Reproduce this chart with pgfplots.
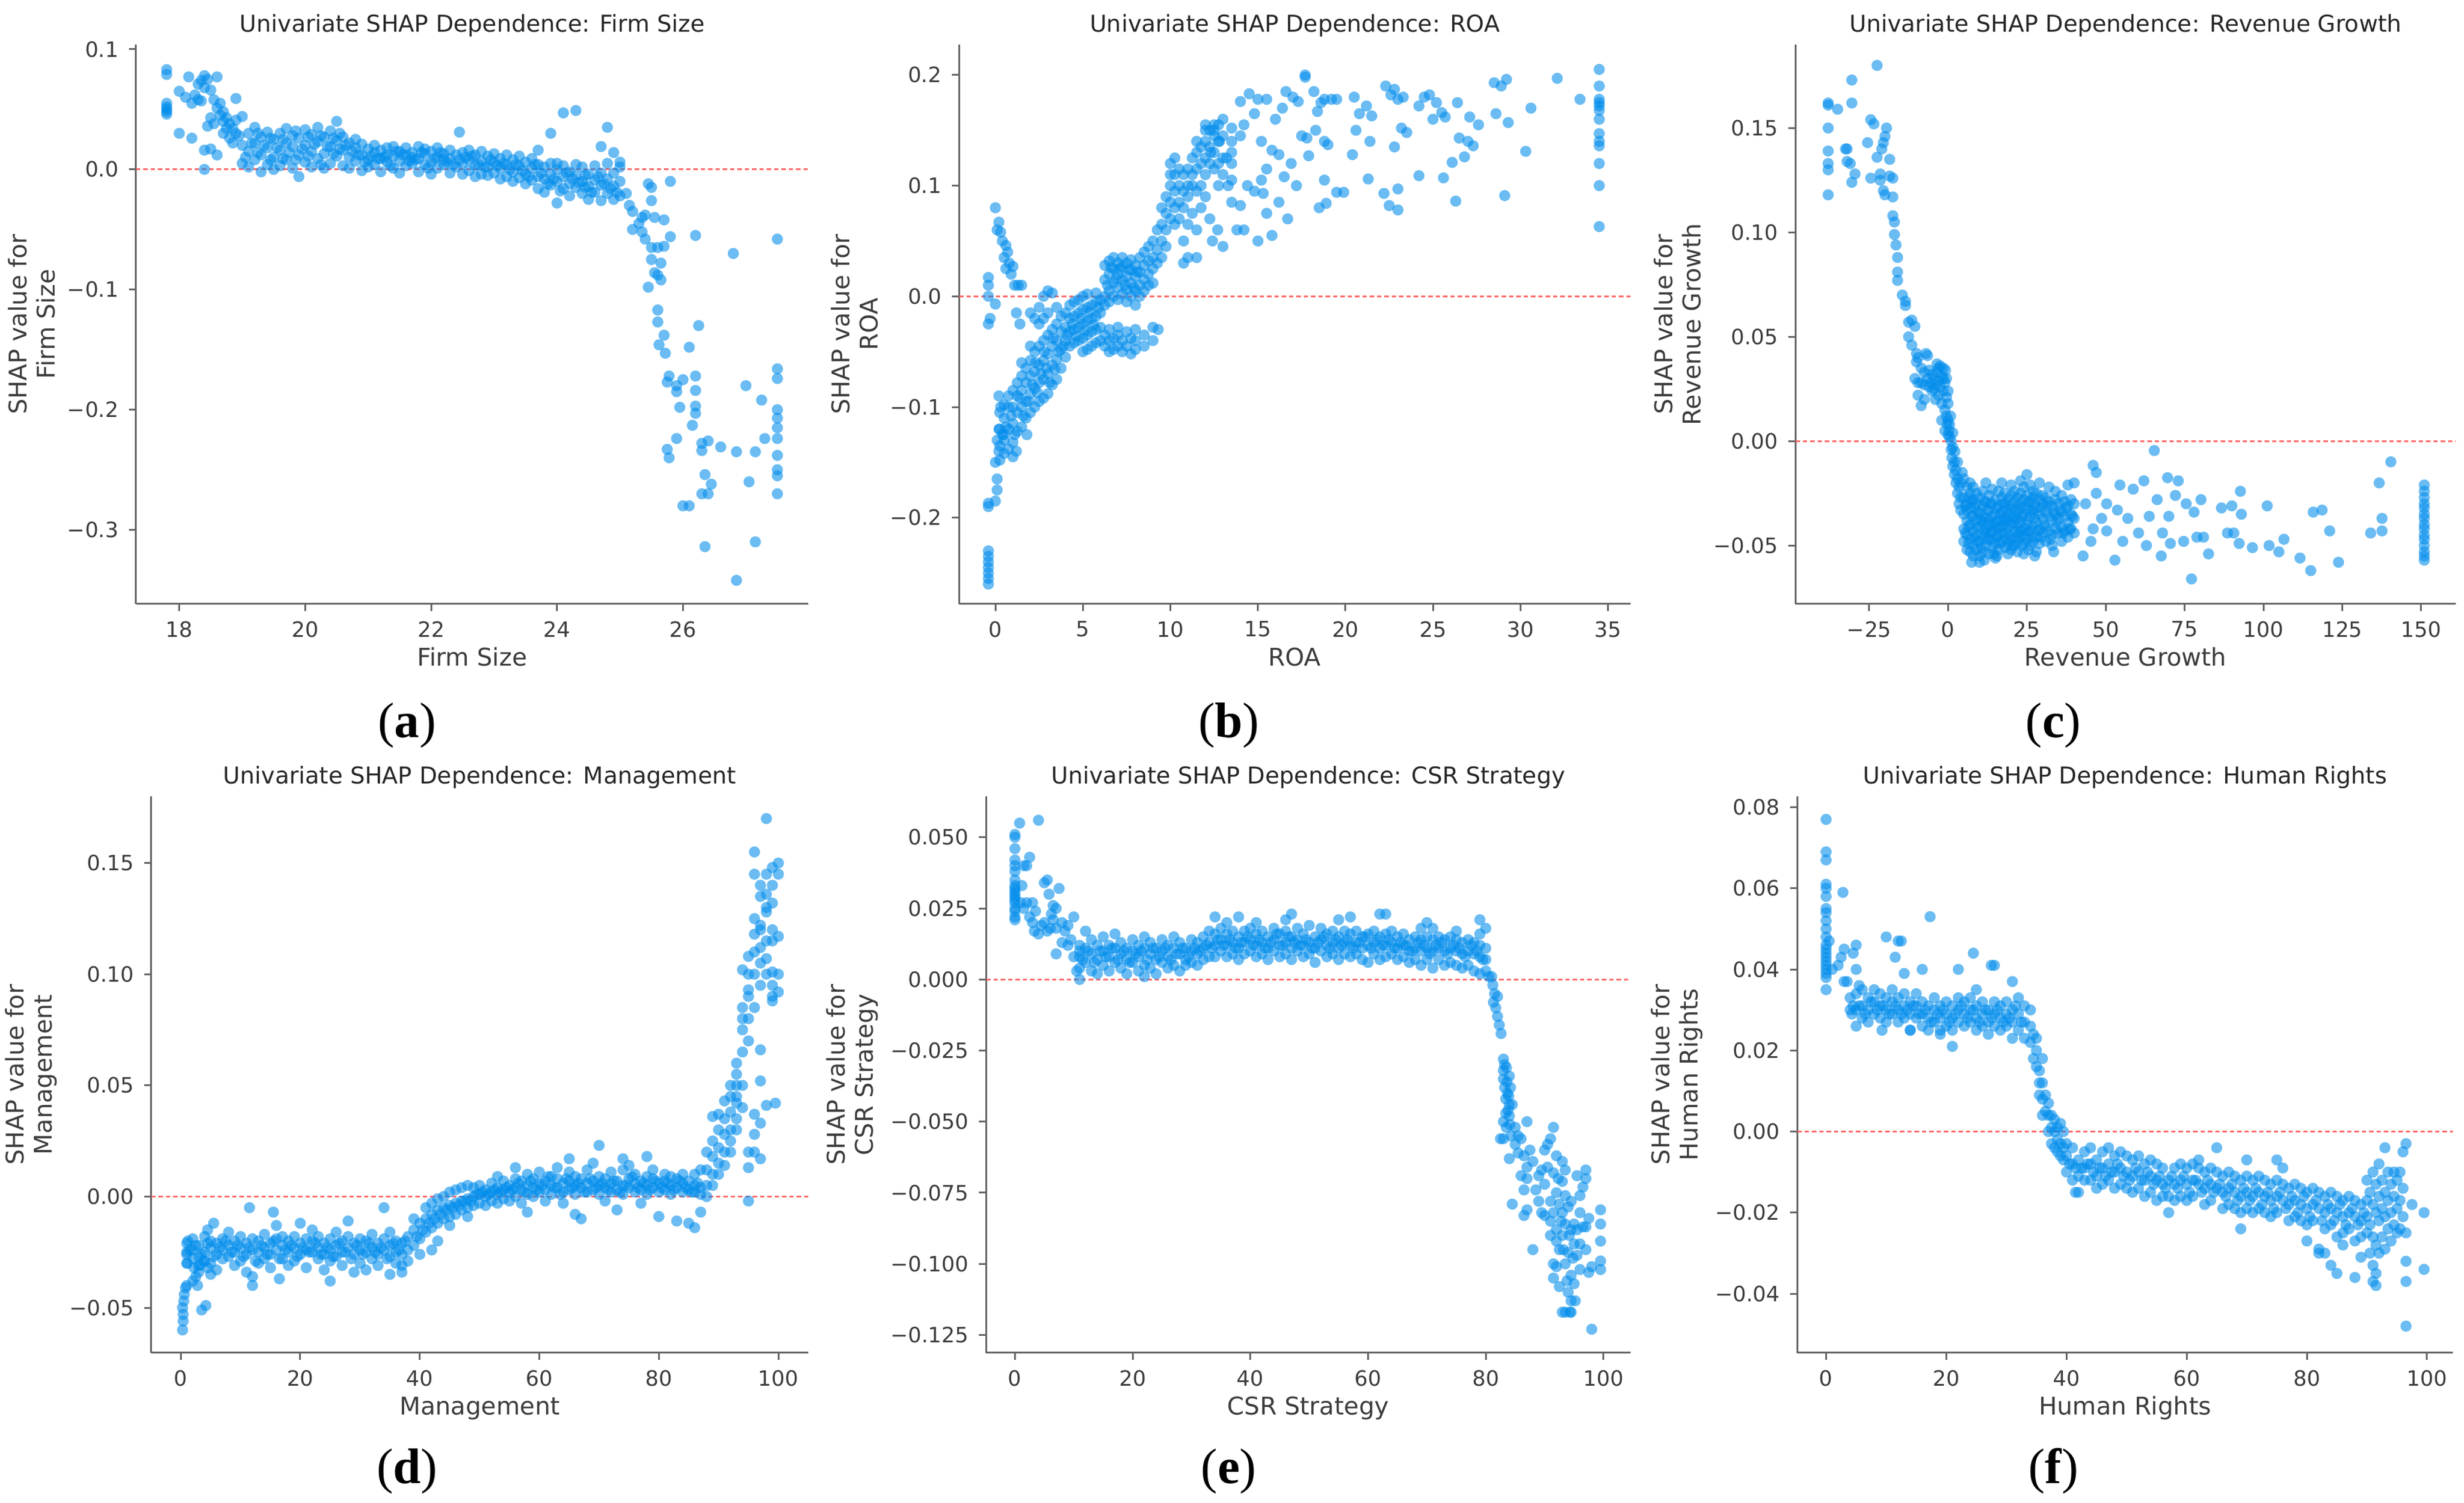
\documentclass[border=0pt]{standalone}
\usepackage{fontspec}
\setmainfont{DejaVu Sans}
\newfontfamily\capfont{Liberation Serif}
\usepackage{pgfplots}
\pgfplotsset{compat=1.18}
\definecolor{shapblue}{RGB}{0,140,235}
\definecolor{spinec}{RGB}{100,100,100}
\definecolor{textc}{RGB}{60,60,60}
\definecolor{zred}{RGB}{255,80,80}
\pgfplotsset{
  every axis title shift=0pt,
  shap/.style={
    scale only axis,
    axis lines=left,
    axis line style={-, draw=spinec, line width=0.6pt},
    tick align=outside,
    major tick length=2.4pt,
    tick style={draw=spinec, line width=0.6pt},
    tick label style={font=\fontsize{7.2}{8}\selectfont, text=textc},
    label style={font=\fontsize{8.3}{9.6}\selectfont, text=textc},
    title style={font=\fontsize{7.9}{9}\selectfont, text=black!85, at={(0.5,1)}, anchor=base, yshift=4.2pt},
    ylabel style={align=center, yshift=-2.7pt},
    xlabel style={at={(axis description cs:0.5,0)}, anchor=base, yshift=-21.2pt},
    clip=false,
    scaled ticks=false,
    anchor=south west,
  },
  pts/.style={only marks, color=shapblue, mark=*, mark size=1.9pt, mark options={line width=0pt, draw opacity=0, fill=shapblue, fill opacity=0.58}},
  zline/.style={no marks, draw=zred, line width=0.6pt, dash pattern=on 1.5pt off 1pt, opacity=0.85},
}
\begin{document}
\begin{tikzpicture}
\path[use as bounding box] (0,0) rectangle (840.2pt,512.6pt);
% ---------------- (a) Firm Size
\begin{axis}[shap, at={(46.4pt,306.6pt)}, width=229.2pt, height=190.8pt,
  xmin=17.314, xmax=27.99, ymin=-0.3617, ymax=0.1039,
  xtick={18,20,22,24,26}, xticklabels={18,20,22,24,26},
  ytick={-0.3,-0.2,-0.1,0,0.1}, yticklabels={−0.3,−0.2,−0.1,0.0,0.1},
  title={Univariate SHAP Dependence: Firm Size}, xlabel={Firm Size}, ylabel={SHAP value for\\Firm Size}]
\addplot[pts] coordinates {
(17.8,0.083)(17.8,0.079)(17.8,0.055)(17.8,0.052)(17.8,0.050)(17.8,0.048)(17.8,0.046)
(18.0,0.030)(18.0,0.065)(18.1,0.060)(18.15,0.077)(18.2,0.026)(18.2,0.055)(18.25,0.062)(18.3,0.071)(18.35,0.074)(18.35,0.057)(18.4,0.078)(18.4,0.068)(18.45,0.075)(18.5,0.066)(18.45,0.036)(18.5,0.043)(18.4,0.016)(18.4,0.000)(18.5,0.017)(18.6,0.077)(18.55,0.058)(18.6,0.051)(18.65,0.045)(18.7,0.040)(18.7,0.030)(18.75,0.034)(18.8,0.026)(18.6,0.012)(18.9,0.059)(18.85,0.022)(18.9,0.030)(19.0,0.044)(19.0,0.020)(19.0,0.005)(18.65,0.055)(18.7,0.048)(18.75,0.043)(18.8,0.038)(18.85,0.034)(18.9,0.041)(18.95,0.028)(18.55,0.038)(18.3,0.058)
(19.1,0.030)(19.1,0.015)(19.1,0.002)(19.2,0.022)(19.2,0.008)(19.2,0.035)(19.3,0.012)(19.3,0.027)(19.3,-0.002)(19.4,0.018)(19.4,0.004)(19.4,0.031)(19.5,0.025)(19.5,0.010)(19.5,0.000)
(19.6,0.016)(19.6,0.030)(19.6,0.003)(19.7,0.008)(19.7,0.022)(19.7,0.034)(19.8,0.019)(19.8,0.001)(19.8,0.028)(19.9,0.012)(19.9,0.026)(19.9,-0.006)(20.0,0.020)(20.0,0.006)(20.0,0.033)
(20.1,0.015)(20.1,0.029)(20.1,0.002)(20.2,0.023)(20.2,0.009)(20.2,0.035)(20.3,0.013)(20.3,0.027)(20.3,0.001)(20.4,0.019)(20.4,0.005)(20.4,0.032)(20.5,0.024)(20.5,0.011)(20.5,0.040)
(20.6,0.016)(20.6,0.003)(20.6,0.027)(20.7,0.010)(20.7,0.022)(20.7,0.001)(20.8,0.018)(20.8,0.007)(20.8,0.025)(20.9,0.012)(20.9,0.021)(20.9,-0.001)(21.0,0.008)(21.0,0.017)(21.0,0.002)
(21.1,0.014)(21.1,0.004)(21.1,0.020)(21.2,0.009)(21.2,0.016)(21.2,-0.002)(21.3,0.006)(21.3,0.018)(21.3,0.012)(21.4,0.011)(21.4,0.001)(21.4,0.019)(21.5,0.007)(21.5,0.015)(21.5,-0.003)
(21.6,0.012)(21.6,0.003)(21.6,0.018)(21.7,0.005)(21.7,0.014)(21.7,0.010)(21.8,0.009)(21.8,-0.002)(21.8,0.019)(21.9,0.013)(21.9,0.004)(21.9,0.017)(22.0,0.006)(22.0,0.015)(22.0,-0.004)
(22.1,0.010)(22.1,0.001)(22.1,0.018)(22.2,0.004)(22.2,0.013)(22.2,0.008)(22.3,0.009)(22.3,-0.003)(22.3,0.016)(22.4,0.012)(22.4,0.002)(22.45,0.031)(22.5,0.005)(22.5,0.014)(22.5,-0.004)
(22.6,0.008)(22.6,-0.001)(22.6,0.016)(22.7,0.003)(22.7,0.012)(22.7,-0.006)(22.8,0.007)(22.8,-0.004)(22.8,0.015)(22.9,0.002)(22.9,0.011)(22.9,-0.005)(23.0,0.006)(23.0,-0.003)(23.0,0.013)
(23.1,0.001)(23.1,0.009)(23.1,-0.008)(23.2,0.004)(23.2,-0.006)(23.2,0.012)(23.3,-0.002)(23.3,0.008)(23.3,-0.010)(23.4,0.003)(23.4,-0.007)(23.4,0.011)(23.5,-0.004)(23.5,0.006)(23.5,-0.012)
(23.6,0.001)(23.6,-0.009)(23.6,0.009)(23.7,-0.006)(23.7,0.004)(23.7,-0.016)(23.7,0.016)(23.8,-0.008)(23.8,0.002)(23.8,-0.019)(23.9,-0.004)(23.9,-0.013)(23.9,0.005)(23.9,0.030)
(24.0,-0.010)(24.0,0.000)(24.0,-0.028)(24.0,0.005)(24.1,-0.006)(24.1,-0.016)(24.1,0.003)(24.1,0.047)(24.2,-0.012)(24.2,-0.002)(24.2,-0.022)(24.3,-0.005)(24.3,-0.015)(24.3,0.004)(24.3,0.049)
(24.4,-0.010)(24.4,-0.020)(24.4,0.002)(24.5,-0.004)(24.5,-0.014)(24.5,-0.025)(24.6,-0.009)(24.6,0.003)(24.6,-0.019)(24.7,-0.013)(24.7,-0.003)(24.7,-0.026)(24.7,0.019)(24.8,-0.008)(24.8,-0.020)(24.8,0.005)(24.8,0.035)
(24.9,-0.014)(24.9,-0.025)(24.9,-0.003)(24.9,0.014)(25.0,-0.010)(25.0,-0.022)(25.0,0.002)(25.0,0.006)
(19.15,0.022)(19.35,0.020)(19.55,0.018)(19.75,0.014)(19.95,0.017)(20.15,0.021)(20.35,0.019)(20.55,0.017)(20.25,0.028)(20.45,0.026)(19.65,0.009)(20.05,0.011)
(19.25,0.014)(19.45,0.026)(19.85,0.008)(20.65,0.020)(20.85,0.012)(21.05,0.011)(21.35,0.003)(21.55,0.012)(21.85,0.014)(22.05,0.009)(22.35,0.004)(22.55,0.010)(22.85,0.002)(23.05,0.003)(23.35,0.004)(23.55,-0.006)(23.85,-0.012)(24.05,-0.018)(24.35,-0.011)(24.55,-0.019)(24.85,-0.016)(24.45,-0.005)
(21.25,0.010)(21.75,0.008)(22.25,0.006)(22.75,0.004)(23.25,0.000)(23.75,-0.003)(24.25,-0.008)(24.75,-0.012)
(19.05,0.010)(19.25,0.030)(19.45,0.008)(19.65,0.025)(19.85,0.032)(20.05,0.027)(20.25,0.004)(20.45,0.013)(20.55,0.030)(20.75,0.015)(20.95,0.006)(21.15,0.009)(21.45,0.015)(21.65,0.007)(21.95,0.001)(22.15,0.014)(22.45,0.008)(22.65,0.011)(22.95,0.008)(23.15,0.005)(23.45,-0.001)(23.65,0.004)(23.95,-0.008)(24.15,-0.003)(24.45,-0.015)(24.65,-0.006)(24.95,-0.019)
(25.1,-0.020)(25.15,-0.030)(25.2,-0.035)(25.2,-0.050)(25.3,-0.045)(25.35,-0.040)(25.35,-0.052)(25.4,-0.038)(25.4,-0.058)(25.45,-0.012)(25.5,-0.015)(25.5,-0.026)(25.55,-0.040)(25.6,-0.065)(25.5,-0.075)(25.55,-0.086)(25.45,-0.098)(25.5,-0.065)(25.6,-0.088)(25.65,-0.078)(25.65,-0.092)(25.7,-0.064)(25.7,-0.042)(25.8,-0.010)
(25.6,-0.117)(25.6,-0.127)(25.62,-0.146)(25.7,-0.138)(25.72,-0.153)(25.75,-0.177)(25.78,-0.172)(25.8,-0.056)(25.75,-0.233)(25.78,-0.240)(25.9,-0.180)(25.95,-0.198)(26.0,-0.175)(25.9,-0.185)(25.9,-0.224)(26.0,-0.280)(26.1,-0.280)(26.1,-0.148)(26.15,-0.213)
(26.2,-0.172)(26.2,-0.184)(26.2,-0.197)(26.2,-0.203)(26.2,-0.055)(26.25,-0.130)(26.3,-0.228)(26.3,-0.234)(26.35,-0.254)(26.4,-0.226)(26.4,-0.270)(26.35,-0.314)(26.45,-0.262)(26.3,-0.270)(26.6,-0.231)(26.8,-0.070)(26.85,-0.235)(26.85,-0.342)(27.0,-0.180)(27.05,-0.260)(27.15,-0.235)(27.15,-0.310)(27.25,-0.192)(27.3,-0.224)
(27.5,-0.058)(27.5,-0.166)(27.5,-0.174)(27.5,-0.200)(27.5,-0.207)(27.5,-0.215)(27.5,-0.224)(27.5,-0.238)(27.5,-0.250)(27.5,-0.255)(27.5,-0.270)
};
\addplot[zline] coordinates {(17.314,0)(27.99,0)};
\end{axis}
% ---------------- (b) ROA
\begin{axis}[shap, at={(327.0pt,306.6pt)}, width=229.0pt, height=190.8pt,
  xmin=-2.08, xmax=36.29, ymin=-0.278, ymax=0.2275,
  xtick={0,5,10,15,20,25,30,35}, xticklabels={0,5,10,15,20,25,30,35},
  ytick={-0.2,-0.1,0,0.1,0.2}, yticklabels={−0.2,−0.1,0.0,0.1,0.2},
  title={Univariate SHAP Dependence: ROA}, xlabel={ROA}, ylabel={SHAP value for\\ROA}]
\addplot[pts] coordinates {
(-0.4,-0.260)(-0.4,-0.255)(-0.4,-0.250)(-0.4,-0.245)(-0.4,-0.240)(-0.4,-0.235)(-0.4,-0.230)(-0.4,-0.190)(-0.4,-0.187)(-0.4,0.017)(-0.4,0.010)(-0.4,0.000)(-0.4,-0.025)(-0.3,-0.020)
(0.0,-0.185)(0.1,-0.175)(0.1,-0.165)(0.0,-0.150)(0.2,-0.140)(0.1,-0.130)(0.2,-0.120)(0.3,-0.100)(0.2,-0.090)(0.0,-0.007)
(0.0,0.080)(0.2,0.067)(0.1,0.060)(0.3,0.058)(0.4,0.050)(0.6,0.046)(0.7,0.040)(0.5,0.035)(0.6,0.025)(0.8,0.030)(0.9,0.020)(1.0,0.027)(1.1,0.010)(1.3,0.010)(1.5,0.010)(1.2,-0.015)(1.4,-0.025)
(0.25,-0.148)(0.25,-0.135)(0.25,-0.120)(0.25,-0.105)(0.5,-0.142)(0.5,-0.125)(0.5,-0.110)(0.5,-0.098)(0.5,-0.130)(0.75,-0.138)(0.75,-0.120)(0.75,-0.100)(0.75,-0.090)
(1.0,-0.132)(1.0,-0.115)(1.0,-0.100)(1.0,-0.085)(1.0,-0.145)(1.25,-0.122)(1.25,-0.105)(1.25,-0.090)(1.25,-0.078)(1.5,-0.118)(1.5,-0.100)(1.5,-0.085)(1.5,-0.072)(1.5,-0.060)
(1.75,-0.110)(1.75,-0.095)(1.75,-0.078)(1.75,-0.065)(2.0,-0.105)(2.0,-0.088)(2.0,-0.072)(2.0,-0.058)(2.0,-0.045)(2.0,-0.015)(2.25,-0.100)(2.25,-0.083)(2.25,-0.068)(2.25,-0.050)(2.25,-0.020)
(2.5,-0.095)(2.5,-0.078)(2.5,-0.062)(2.5,-0.045)(2.5,-0.010)(2.5,-0.025)(2.75,-0.092)(2.75,-0.075)(2.75,-0.058)(2.75,-0.040)(2.75,0.000)(2.75,-0.020)
(3.0,-0.088)(3.0,-0.070)(3.0,-0.052)(3.0,-0.035)(3.0,-0.015)(3.0,0.005)(3.25,-0.080)(3.25,-0.062)(3.25,-0.045)(3.25,-0.030)(3.25,0.003)(3.5,-0.075)(3.5,-0.057)(3.5,-0.040)(3.5,-0.025)(3.5,-0.010)
(3.75,-0.065)(3.75,-0.048)(3.75,-0.032)(3.75,-0.018)(4.0,-0.055)(4.0,-0.040)(4.0,-0.028)(4.0,-0.015)
(0.6,-0.118)(0.9,-0.108)(1.1,-0.125)(1.4,-0.092)(1.6,-0.108)(1.9,-0.095)(2.1,-0.080)(2.4,-0.087)(2.6,-0.070)(2.9,-0.065)(3.1,-0.078)(3.4,-0.066)(3.6,-0.050)(3.9,-0.045)(2.3,-0.060)(2.8,-0.050)(3.3,-0.038)(1.8,-0.125)(1.2,-0.140)(0.4,-0.125)
(4.25,-0.045)(4.25,-0.032)(4.25,-0.020)(4.25,-0.008)(4.5,-0.042)(4.5,-0.030)(4.5,-0.018)(4.5,-0.005)(4.75,-0.040)(4.75,-0.028)(4.75,-0.015)(4.75,-0.003)
(5.0,-0.038)(5.0,-0.025)(5.0,-0.012)(5.0,0.000)(5.0,-0.050)(5.25,-0.035)(5.25,-0.022)(5.25,-0.010)(5.25,0.002)(5.25,-0.048)(5.5,-0.032)(5.5,-0.020)(5.5,-0.008)(5.5,-0.045)
(5.75,-0.030)(5.75,-0.018)(5.75,-0.005)(5.75,-0.042)(5.75,0.003)(6.0,-0.028)(6.0,-0.015)(6.0,-0.003)(6.0,-0.040)
(4.4,-0.025)(4.6,-0.036)(4.9,-0.020)(5.1,-0.031)(5.4,-0.014)(5.6,-0.026)(5.9,-0.010)(4.1,-0.035)
(6.25,-0.035)(6.25,-0.045)(6.5,-0.040)(6.5,-0.050)(6.5,-0.030)(6.75,-0.038)(6.75,-0.048)(7.0,-0.035)(7.0,-0.045)(7.0,-0.028)(7.25,-0.040)(7.25,-0.050)(7.5,-0.032)(7.5,-0.045)(7.75,-0.038)(7.75,-0.052)(8.0,-0.040)(8.0,-0.048)(8.0,-0.030)(8.5,-0.035)(8.5,-0.045)(9.0,-0.028)(9.0,-0.040)(9.3,-0.030)
(6.25,0.000)(6.25,0.015)(6.25,0.028)(6.25,-0.008)(6.5,0.005)(6.5,0.020)(6.5,0.032)(6.5,-0.005)(6.75,0.000)(6.75,0.012)(6.75,0.025)(6.75,0.035)(7.0,0.008)(7.0,0.020)(7.0,0.030)(7.0,-0.003)
(7.25,0.002)(7.25,0.015)(7.25,0.027)(7.25,0.035)(7.5,0.006)(7.5,0.018)(7.5,0.030)(7.5,-0.005)(7.75,0.000)(7.75,0.012)(7.75,0.024)(7.75,0.033)(8.0,0.005)(8.0,0.018)(8.0,0.028)(8.0,-0.008)
(6.4,0.010)(6.6,0.026)(6.9,0.016)(7.1,0.025)(7.4,0.010)(7.6,0.024)(7.9,0.008)(8.1,0.022)
(8.25,0.010)(8.25,0.022)(8.25,0.035)(8.25,0.000)(8.5,0.015)(8.5,0.028)(8.5,0.040)(8.5,0.005)(8.75,0.020)(8.75,0.032)(8.75,0.045)(8.75,0.010)(9.0,0.025)(9.0,0.035)(9.0,0.050)(9.0,0.012)
(9.25,0.030)(9.25,0.042)(9.25,0.060)(9.5,0.035)(9.5,0.050)(9.5,0.065)(9.5,0.080)(9.75,0.045)(9.75,0.060)(9.75,0.075)(9.75,0.090)
(10.0,0.070)(10.0,0.085)(10.0,0.100)(10.0,0.110)(10.0,0.120)(10.25,0.065)(10.25,0.080)(10.25,0.095)(10.25,0.110)(10.25,0.125)(10.5,0.085)(10.5,0.100)(10.5,0.115)(10.5,0.070)
(10.75,0.080)(10.75,0.095)(10.75,0.110)(10.75,0.030)(10.75,0.050)(11.0,0.090)(11.0,0.100)(11.0,0.115)(11.0,0.035)(11.0,0.065)(11.25,0.100)(11.25,0.110)(11.25,0.125)(11.25,0.075)
(11.5,0.095)(11.5,0.115)(11.5,0.130)(11.5,0.035)(11.5,0.060)(11.75,0.100)(11.75,0.120)(11.75,0.135)(11.75,0.080)(12.0,0.110)(12.0,0.125)(12.0,0.140)(12.0,0.155)(12.0,0.090)
(12.25,0.120)(12.25,0.135)(12.25,0.150)(12.25,0.070)(12.5,0.115)(12.5,0.130)(12.5,0.145)(12.5,0.155)(12.75,0.120)(12.75,0.140)(12.75,0.155)(12.75,0.100)(13.0,0.125)(13.0,0.145)(13.0,0.110)
(13.5,0.130)(13.5,0.140)(13.5,0.120)(13.5,0.105)
(14.0,0.176)(14.5,0.183)(15.0,0.178)(15.5,0.178)(14.8,0.165)(14.2,0.155)(13.5,0.152)(13.0,0.160)(12.5,0.150)(12.8,0.140)(13.2,0.125)(12.0,0.150)(11.5,0.140)(12.3,0.130)(14.0,0.145)(15.2,0.140)(15.8,0.132)
(16.0,0.160)(16.4,0.170)(16.6,0.185)(17.0,0.180)(17.3,0.176)(17.7,0.200)(17.7,0.198)(18.2,0.185)(18.6,0.175)(18.8,0.178)(19.2,0.178)(19.5,0.178)(18.4,0.167)(17.5,0.145)(17.8,0.143)(18.3,0.150)(18.8,0.140)(19.0,0.137)
(17.9,0.127)(16.9,0.120)(16.2,0.128)(15.5,0.115)(14.8,0.095)(15.3,0.093)(16.2,0.085)(16.7,0.070)(15.5,0.075)(14.0,0.082)(13.8,0.060)(14.2,0.060)(12.7,0.060)(13.0,0.045)(12.4,0.050)(15.0,0.050)(15.8,0.055)
(13.3,0.100)(13.5,0.085)(14.4,0.100)(15.2,0.105)(16.5,0.108)(17.2,0.100)(18.8,0.105)(18.5,0.080)(18.9,0.084)(19.5,0.094)(19.9,0.094)
(20.5,0.180)(20.8,0.165)(20.6,0.150)(20.4,0.128)(21.2,0.172)(21.5,0.163)(21.4,0.140)(21.3,0.106)(22.3,0.190)(22.8,0.187)(22.6,0.182)(23.0,0.178)(23.3,0.180)(22.8,0.135)(23.2,0.152)(23.5,0.148)(22.2,0.093)(22.5,0.082)(23.0,0.097)(23.0,0.078)
(24.2,0.172)(24.5,0.180)(24.8,0.182)(25.2,0.175)(25.5,0.166)(25.0,0.160)(25.7,0.162)(26.4,0.175)(26.5,0.143)(26.1,0.121)(26.8,0.126)(27.1,0.162)(27.0,0.140)(26.3,0.086)(27.3,0.136)(27.6,0.155)
(28.5,0.193)(28.6,0.165)(28.9,0.190)(29.2,0.196)(29.3,0.157)(29.1,0.091)(25.6,0.107)(24.2,0.109)(30.3,0.131)(30.6,0.170)(32.1,0.197)(33.4,0.178)
(34.5,0.205)(34.5,0.190)(34.5,0.178)(34.5,0.175)(34.5,0.172)(34.5,0.168)(34.5,0.160)(34.5,0.147)(34.5,0.140)(34.5,0.136)(34.5,0.120)(34.5,0.100)(34.5,0.063)
};
\addplot[zline] coordinates {(-2.08,0)(36.29,0)};
\end{axis}
% ---------------- (c) Revenue Growth
\begin{axis}[shap, at={(612.2pt,306.6pt)}, width=225.2pt, height=190.8pt,
  xmin=-48.4, xmax=161.0, ymin=-0.078, ymax=0.190,
  xtick={-25,0,25,50,75,100,125,150}, xticklabels={−25,0,25,50,75,100,125,150},
  ytick={-0.05,0,0.05,0.10,0.15}, yticklabels={−0.05,0.00,0.05,0.10,0.15},
  title={Univariate SHAP Dependence: Revenue Growth}, xlabel={Revenue Growth}, ylabel={SHAP value for\\Revenue Growth}]
\addplot[pts] coordinates {
(-38,0.162)(-38,0.161)(-38,0.150)(-38,0.139)(-38,0.133)(-38,0.130)(-38,0.118)(-35,0.159)(-32.5,0.140)(-32,0.140)(-32,0.134)(-31,0.133)(-30.5,0.124)(-29.5,0.128)(-30.5,0.173)(-30.5,0.162)
(-25.5,0.143)(-24.5,0.154)(-23.5,0.152)(-24.5,0.126)(-22.5,0.180)(-22.5,0.136)(-21.5,0.128)(-21,0.140)(-20.5,0.143)(-20,0.146)(-19.5,0.150)(-21.5,0.125)(-20.5,0.120)(-20,0.118)(-18.5,0.127)(-18.5,0.135)
(-17.5,0.126)(-17.5,0.117)(-17.5,0.108)(-17,0.105)(-17,0.099)(-16.5,0.094)(-16,0.088)(-16,0.081)(-16,0.077)(-14.5,0.070)(-13.5,0.067)(-13.5,0.065)(-12.5,0.057)(-11.5,0.058)(-10.5,0.055)(-12.5,0.050)(-11.5,0.046)
(-10,0.042)(-10,0.038)(-9.5,0.040)(-7,0.042)(-6.5,0.041)(-10.5,0.030)(-9.5,0.028)(-8.5,0.035)(-7.5,0.033)(-6.5,0.030)(-9.5,0.022)(-8.5,0.017)(-7.5,0.020)(-5.5,0.028)
(-6,0.034)(-5,0.032)(-4.5,0.030)(-4,0.027)(-3.5,0.033)(-3,0.029)(-2.5,0.026)(-2,0.031)(-1.5,0.024)(-1,0.028)(-0.5,0.021)(-5,0.024)(-4,0.020)(-3,0.022)(-2,0.018)(-1,0.015)(-0.5,0.012)(0,0.018)(0,0.010)
(0.3,0.005)(0.5,0.002)(0.5,0.008)(1,0.000)(1,-0.004)(1.2,-0.008)(1.5,-0.003)(1.5,-0.012)(2,-0.010)(2,-0.016)(2.5,-0.014)(2.5,-0.020)(3,-0.018)(3,-0.025)(3.5,-0.022)(3.5,-0.030)(4,-0.020)(4,-0.027)(4,-0.033)
(-0.8,0.034)(-1.5,0.035)(-2.5,0.036)(-3.5,0.037)(-2,0.010)(-1,0.005)(0,0.024)(0,0.003)(-0.2,0.008)
(0.8,0.012)(1.5,0.004)(2.2,-0.005)(3,-0.010)(4.5,-0.015)(-0.5,0.030)(-1.5,0.030)(-3,0.035)(-4.5,0.025)(-6,0.026)(-7.5,0.027)(-8.5,0.028)
(5,-0.018)(5,-0.027)(5,-0.035)(5,-0.042)(5,-0.048)
(6,-0.022)(6,-0.030)(6,-0.038)(6,-0.045)(6,-0.052)(6,-0.033)
(7,-0.025)(7,-0.032)(7,-0.040)(7,-0.047)(7,-0.053)(7,-0.020)
(8,-0.028)(8,-0.036)(8,-0.043)(8,-0.050)(8,-0.022)(8,-0.055)
(9,-0.030)(9,-0.038)(9,-0.045)(9,-0.052)(9,-0.025)(9,-0.041)
(10,-0.027)(10,-0.034)(10,-0.041)(10,-0.048)(10,-0.055)(10,-0.058)
(11,-0.031)(11,-0.039)(11,-0.046)(11,-0.053)(11,-0.024)(11,-0.036)
(12,-0.029)(12,-0.037)(12,-0.044)(12,-0.050)(12,-0.020)(12,-0.042)
(13,-0.033)(13,-0.040)(13,-0.047)(13,-0.054)(13,-0.026)(13,-0.038)
(14,-0.030)(14,-0.036)(14,-0.043)(14,-0.051)(14,-0.023)(14,-0.047)
(15,-0.028)(15,-0.035)(15,-0.042)(15,-0.049)(15,-0.056)(15,-0.039)
(16,-0.031)(16,-0.038)(16,-0.045)(16,-0.052)(16,-0.024)(16,-0.041)
(17,-0.027)(17,-0.034)(17,-0.041)(17,-0.048)(17,-0.020)(17,-0.044)
(18,-0.030)(18,-0.037)(18,-0.044)(18,-0.051)(18,-0.025)(18,-0.040)
(19,-0.028)(19,-0.035)(19,-0.042)(19,-0.049)(19,-0.054)(19,-0.038)
(20,-0.026)(20,-0.033)(20,-0.040)(20,-0.047)(20,-0.021)(20,-0.052)
(21,-0.029)(21,-0.036)(21,-0.043)(21,-0.050)(21,-0.024)(21,-0.039)
(22,-0.027)(22,-0.034)(22,-0.041)(22,-0.048)(22,-0.053)(22,-0.037)
(23,-0.025)(23,-0.032)(23,-0.039)(23,-0.046)(23,-0.019)(23,-0.043)
(24,-0.028)(24,-0.035)(24,-0.042)(24,-0.049)(24,-0.022)(24,-0.054)
(25,-0.026)(25,-0.033)(25,-0.040)(25,-0.047)(25,-0.016)(25,-0.038)
(26,-0.029)(26,-0.036)(26,-0.043)(26,-0.050)(26,-0.021)
(27,-0.027)(27,-0.034)(27,-0.041)(27,-0.048)(27,-0.024)
(28,-0.025)(28,-0.032)(28,-0.039)(28,-0.046)(28,-0.053)
(29,-0.028)(29,-0.035)(29,-0.042)(29,-0.049)(29,-0.020)
(30,-0.030)(30,-0.037)(30,-0.044)(30,-0.026)(31,-0.027)(31,-0.034)(31,-0.041)(31,-0.048)
(32,-0.029)(32,-0.036)(32,-0.043)(32,-0.022)(33,-0.031)(33,-0.038)(33,-0.045)(33,-0.050)
(34,-0.028)(34,-0.035)(34,-0.042)(34,-0.024)(35,-0.030)(35,-0.037)(35,-0.044)(36,-0.026)(36,-0.034)(36,-0.041)(36,-0.048)
(37,-0.029)(37,-0.036)(37,-0.043)(38,-0.031)(38,-0.039)(38,-0.046)(38,-0.021)(39,-0.028)(39,-0.035)(39,-0.042)(40,-0.030)(40,-0.037)(40,-0.044)(40,-0.020)
(5.5,-0.031)(5.5,-0.044)(6.5,-0.027)(6.5,-0.041)(6.5,-0.049)(7.5,-0.036)(7.5,-0.029)(8.5,-0.046)(8.5,-0.032)(9.5,-0.048)(9.5,-0.034)(10.5,-0.038)(10.5,-0.051)(11.5,-0.029)(11.5,-0.043)(12.5,-0.047)(12.5,-0.033)
(13.5,-0.044)(13.5,-0.030)(14.5,-0.040)(14.5,-0.054)(15.5,-0.032)(15.5,-0.046)(16.5,-0.035)(16.5,-0.049)(17.5,-0.038)(17.5,-0.030)(18.5,-0.047)(18.5,-0.033)(19.5,-0.045)(19.5,-0.031)(20.5,-0.037)(20.5,-0.050)
(21.5,-0.032)(21.5,-0.046)(22.5,-0.044)(22.5,-0.030)(23.5,-0.036)(23.5,-0.050)(24.5,-0.031)(24.5,-0.045)(25.5,-0.043)(25.5,-0.029)(26.5,-0.033)(26.5,-0.046)(27.5,-0.037)(27.5,-0.030)(28.5,-0.043)(29.5,-0.032)(29.5,-0.046)
(30.5,-0.040)(31.5,-0.031)(32.5,-0.047)(33.5,-0.034)(34.5,-0.039)(35.5,-0.033)(36.5,-0.044)(37.5,-0.032)(38.5,-0.042)(39.5,-0.036)
(7.5,-0.058)(11.5,-0.057)(15.5,-0.055)(27.5,-0.055)(33.5,-0.053)(25.5,-0.052)
(46,-0.0116)(47,-0.015)(65.4,-0.0045)(69.6,-0.0175)(140.4,-0.0099)(136.7,-0.020)(77.2,-0.066)(115,-0.062)(111.6,-0.056)(123.8,-0.058)(96.5,-0.051)(101.8,-0.050)(104.9,-0.053)(106.5,-0.047)
(101.2,-0.031)(93,-0.035)(92.7,-0.024)(90,-0.031)(86.7,-0.032)(80.2,-0.028)(82.6,-0.054)(121,-0.043)(118.6,-0.033)(115.8,-0.034)(134,-0.044)(137.6,-0.043)(137.6,-0.037)
(52.9,-0.057)(62.9,-0.050)(67.6,-0.055)(74.7,-0.048)(88.6,-0.044)(90.6,-0.044)(92.3,-0.049)(70.5,-0.049)(58.7,-0.023)(54.5,-0.021)(62.1,-0.019)(70,-0.036)(72.1,-0.026)(75.5,-0.030)(78,-0.034)(78.9,-0.046)(81,-0.046)
(50.3,-0.030)(53.7,-0.033)(57,-0.037)(50.3,-0.043)(55.4,-0.048)(60.4,-0.044)(63.8,-0.036)(66.3,-0.028)(68,-0.044)(73,-0.019)(47,-0.025)(48.7,-0.037)(45.3,-0.048)(42.8,-0.055)(43.6,-0.030)(46,-0.042)
(151,-0.021)(151,-0.024)(151,-0.027)(151,-0.030)(151,-0.032)(151,-0.035)(151,-0.037)(151,-0.040)(151,-0.042)(151,-0.045)(151,-0.047)(151,-0.050)(151,-0.053)(151,-0.055)(151,-0.057)
};
\addplot[zline] coordinates {(-48.4,0)(161.0,0)};
\end{axis}
% ---------------- (d) Management
\begin{axis}[shap, at={(51.6pt,51.2pt)}, width=224pt, height=189.8pt,
  xmin=-4.93, xmax=105.0, ymin=-0.0703, ymax=0.180,
  xtick={0,20,40,60,80,100}, xticklabels={0,20,40,60,80,100},
  ytick={-0.05,0,0.05,0.10,0.15}, yticklabels={−0.05,0.00,0.05,0.10,0.15},
  title={Univariate SHAP Dependence: Management}, xlabel={Management}, ylabel={SHAP value for\\Management}]
\addplot[pts] coordinates {
(0.3,-0.060)(0.4,-0.056)(0.4,-0.053)(0.3,-0.050)(0.5,-0.047)(0.6,-0.044)(0.8,-0.041)(1.0,-0.040)(1.2,-0.020)(1.0,-0.025)(1.1,-0.030)(3.5,-0.051)(4.2,-0.049)(2.0,-0.038)(2.5,-0.036)(3.0,-0.034)(2.8,-0.040)(3.2,-0.031)(4.5,-0.032)(5.0,-0.035)(2.2,-0.032)(3.8,-0.029)(5.5,-0.012)(4.5,-0.015)(11.5,-0.005)(15.5,-0.007)(12,-0.040)(16.5,-0.037)(25,-0.038)(35,-0.035)(37,-0.034)
(1,-0.021)(1,-0.026)(1,-0.030)(2,-0.024)(2,-0.019)(2,-0.028)(3,-0.022)(3,-0.027)(3,-0.031)(4,-0.018)(4,-0.025)(4,-0.029)(5,-0.023)(5,-0.020)(5,-0.030)
(6,-0.026)(6,-0.021)(6,-0.033)(7,-0.019)(7,-0.024)(7,-0.028)(8,-0.022)(8,-0.027)(8,-0.016)(9,-0.025)(9,-0.020)(9,-0.031)(10,-0.018)(10,-0.023)(10,-0.029)
(11,-0.021)(11,-0.026)(11,-0.034)(12,-0.024)(12,-0.019)(12,-0.036)(13,-0.020)(13,-0.025)(13,-0.030)(14,-0.023)(14,-0.017)(14,-0.028)(15,-0.026)(15,-0.021)(15,-0.032)
(16,-0.019)(16,-0.024)(16,-0.013)(17,-0.022)(17,-0.028)(17,-0.018)(18,-0.025)(18,-0.020)(18,-0.031)(19,-0.018)(19,-0.023)(19,-0.029)(20,-0.021)(20,-0.026)(20,-0.012)
(21,-0.024)(21,-0.019)(21,-0.032)(22,-0.020)(22,-0.025)(22,-0.015)(23,-0.023)(23,-0.028)(23,-0.018)(24,-0.026)(24,-0.021)(24,-0.033)(25,-0.019)(25,-0.024)(25,-0.029)
(26,-0.022)(26,-0.027)(26,-0.016)(27,-0.025)(27,-0.020)(27,-0.031)(28,-0.018)(28,-0.023)(28,-0.011)(29,-0.021)(29,-0.026)(29,-0.034)(30,-0.024)(30,-0.019)(30,-0.030)
(31,-0.020)(31,-0.025)(31,-0.033)(32,-0.023)(32,-0.017)(32,-0.028)(33,-0.026)(33,-0.021)(33,-0.031)(34,-0.019)(34,-0.024)(34,-0.005)(35,-0.022)(35,-0.027)(35,-0.016)
(36,-0.025)(36,-0.020)(36,-0.030)(37,-0.021)(37,-0.026)(37,-0.031)(38,-0.018)(38,-0.024)(38,-0.029)
(1.5,-0.024)(2.5,-0.022)(3.5,-0.026)(4.5,-0.021)(5.5,-0.027)(6.5,-0.023)(7.5,-0.020)(8.5,-0.025)(9.5,-0.022)(10.5,-0.027)(11.5,-0.023)(12.5,-0.029)(13.5,-0.022)(14.5,-0.026)(15.5,-0.020)(16.5,-0.028)(17.5,-0.024)(18.5,-0.022)(19.5,-0.027)
(20.5,-0.023)(21.5,-0.025)(22.5,-0.021)(23.5,-0.026)(24.5,-0.023)(25.5,-0.027)(26.5,-0.021)(27.5,-0.025)(28.5,-0.028)(29.5,-0.022)(30.5,-0.026)(31.5,-0.021)(32.5,-0.025)(33.5,-0.023)(34.5,-0.028)(35.5,-0.021)(36.5,-0.024)(37.5,-0.020)
(39,-0.015)(39,-0.022)(39,-0.010)(40,-0.012)(40,-0.019)(40,-0.026)(41,-0.010)(41,-0.016)(41,-0.005)(42,-0.008)(42,-0.014)(42,-0.003)(42,-0.024)(43,-0.006)(43,-0.012)(43,-0.001)(43,-0.020)
(44,-0.005)(44,-0.010)(44,0.000)(45,-0.004)(45,-0.009)(45,0.002)(45,-0.013)(46,-0.003)(46,-0.008)(46,0.003)(47,-0.002)(47,-0.006)(47,0.004)(48,-0.001)(48,-0.005)(48,0.005)(48,-0.009)
(49,0.000)(49,-0.004)(49,0.004)(50,0.001)(50,-0.003)(50,0.005)(51,0.000)(51,0.003)(51,-0.004)(52,0.002)(52,-0.002)(52,0.006)(53,0.001)(53,0.004)(53,-0.003)(53,0.009)(54,0.003)(54,-0.001)(54,0.007)(55,0.002)(55,0.005)(55,-0.002)
(39.5,-0.018)(40.5,-0.015)(41.5,-0.012)(42.5,-0.010)(43.5,-0.008)(44.5,-0.006)(45.5,-0.005)(46.5,-0.004)(47.5,-0.002)(48.5,-0.002)(49.5,0.001)(50.5,0.002)(51.5,0.001)(52.5,0.003)(53.5,0.002)(54.5,0.004)(55.5,0.003)
(56,0.004)(56,0.000)(56,0.008)(56,0.013)(57,0.003)(57,0.007)(57,-0.003)(58,0.005)(58,0.001)(58,0.010)(58,-0.007)(59,0.004)(59,0.008)(59,0.000)(60,0.006)(60,0.002)(60,0.011)
(61,0.003)(61,0.007)(61,-0.002)(62,0.005)(62,0.001)(62,0.009)(63,0.004)(63,0.008)(63,0.013)(64,0.006)(64,0.002)(64,-0.003)(65,0.003)(65,0.007)(65,0.011)(65,0.017)
(66,0.005)(66,0.001)(66,0.009)(66,-0.008)(67,0.004)(67,0.008)(67,-0.010)(68,0.006)(68,0.002)(68,0.012)(69,0.003)(69,0.007)(69,0.015)(70,0.005)(70,0.001)(70,0.009)(70,0.023)
(71,0.004)(71,0.008)(71,-0.002)(72,0.006)(72,0.002)(72,0.011)(73,0.003)(73,0.007)(73,-0.006)(74,0.005)(74,0.001)(74,0.012)(74,0.017)(75,0.004)(75,0.008)(75,0.014)
(76,0.006)(76,0.002)(76,0.010)(77,0.003)(77,0.007)(77,-0.003)(78,0.005)(78,0.001)(78,0.009)(78,0.018)(79,0.004)(79,0.008)(79,0.012)(80,0.006)(80,0.002)(80,-0.009)
(81,0.003)(81,0.007)(81,0.010)(82,0.005)(82,0.001)(82,0.009)(83,0.004)(83,0.008)(83,-0.011)(84,0.006)(84,0.002)(84,0.010)(85,0.003)(85,0.007)(85,-0.012)(86,0.002)(86,0.005)(86,-0.014)(86,0.010)(87,0.001)(87,0.004)(87,-0.007)(87,0.012)
(56.5,0.006)(57.5,0.002)(58.5,0.007)(59.5,0.003)(60.5,0.005)(61.5,0.009)(62.5,0.004)(63.5,0.001)(64.5,0.008)(65.5,0.004)(66.5,0.006)(67.5,0.002)(68.5,0.008)(69.5,0.004)(70.5,0.006)(71.5,0.003)
(72.5,0.007)(73.5,0.002)(74.5,0.005)(75.5,0.009)(76.5,0.004)(77.5,0.006)(78.5,0.003)(79.5,0.007)(80.5,0.004)(81.5,0.006)(82.5,0.003)(83.5,0.007)(84.5,0.004)(85.5,0.002)(86.5,0.006)
(88,0.005)(88,0.012)(88,0.020)(88,0.000)(89,0.010)(89,0.018)(89,0.025)(89,0.005)(89,0.036)(90,0.015)(90,0.022)(90,0.030)(90,0.037)(90,0.010)(91,0.020)(91,0.028)(91,0.035)(91,0.043)(91,0.014)
(92,0.030)(92,0.038)(92,0.045)(92,0.050)(92,0.025)(92,0.020)(93,0.035)(93,0.045)(93,0.050)(93,0.055)(93,0.030)(93,0.042)(93,0.060)
(94,0.050)(94,0.065)(94,0.075)(94,0.080)(94,0.085)(94,0.040)(94,0.102)(95,0.070)(95,0.080)(95,0.090)(95,0.093)(95,0.100)(95,0.108)(95,0.020)(95,0.013)(95,-0.002)
(96,0.085)(96,0.100)(96,0.110)(96,0.118)(96,0.125)(96,0.145)(96,0.155)(96,0.028)(96,0.037)(96,0.020)
(97,0.095)(97,0.105)(97,0.112)(97,0.120)(97,0.135)(97,0.140)(97,0.066)(97,0.052)(97,0.033)(97,0.017)(97,0.122)
(98,0.100)(98,0.115)(98,0.130)(98,0.136)(98,0.145)(98,0.170)(98,0.128)(98,0.107)(98,0.041)
(99,0.088)(99,0.095)(99,0.101)(99,0.120)(99,0.132)(99,0.140)(99,0.148)(99,0.115)(99,0.090)(99.5,0.042)
(100,0.092)(100,0.100)(100,0.117)(100,0.145)(100,0.150)
};
\addplot[zline] coordinates {(-4.93,0)(105.0,0)};
\end{axis}
% ---------------- (e) CSR Strategy
\begin{axis}[shap, at={(336.2pt,51.2pt)}, width=219.8pt, height=189.8pt,
  xmin=-4.92, xmax=104.6, ymin=-0.1313, ymax=0.0644,
  xtick={0,20,40,60,80,100}, xticklabels={0,20,40,60,80,100},
  ytick={-0.125,-0.1,-0.075,-0.05,-0.025,0,0.025,0.05}, yticklabels={−0.125,−0.100,−0.075,−0.050,−0.025,0.000,0.025,0.050},
  title={Univariate SHAP Dependence: CSR Strategy}, xlabel={CSR Strategy}, ylabel={SHAP value for\\CSR Strategy}]
\addplot[pts] coordinates {
(0,0.051)(0,0.050)(0,0.046)(0,0.042)(0,0.040)(0,0.038)(0,0.035)(0,0.033)(0,0.032)(0,0.031)(0,0.030)(0,0.029)(0,0.028)(0,0.027)(0,0.025)(0,0.024)(0,0.022)(0,0.021)
(0.8,0.055)(1,0.027)(1.2,0.033)(1.5,0.040)(2,0.040)(2.5,0.043)(2,0.027)(2.5,0.022)(3,0.020)(3.3,0.017)(4,0.056)(3.5,0.024)(4,0.016)(5,0.034)(5.5,0.035)(5,0.020)(5.5,0.017)(6,0.018)(6.5,0.026)(6.5,0.021)
(7,0.018)(7,0.025)(7.5,0.032)(7,0.009)(8,0.020)(8.5,0.017)(9,0.012)(9.5,0.014)(10,0.022)(10,0.008)(10.5,0.003)(11,0.000)(11,0.010)(4.5,0.019)(5.8,0.030)(6.2,0.023)(8,0.013)(9,0.019)(3,0.027)(1.5,0.025)
(11,0.008)(11,0.004)(11,0.012)(12,0.011)(12,0.006)(12,0.017)(13,0.009)(13,0.003)(13,0.014)(14,0.012)(14,0.007)(14,0.002)(15,0.010)(15,0.005)(15,0.015)
(16,0.008)(16,0.012)(16,0.003)(17,0.011)(17,0.006)(17,0.016)(18,0.009)(18,0.013)(18,0.004)(19,0.007)(19,0.011)(19,0.002)(20,0.010)(20,0.006)(20,0.014)
(21,0.008)(21,0.012)(21,0.003)(22,0.011)(22,0.005)(22,0.001)(22,0.015)(23,0.009)(23,0.013)(23,0.004)(24,0.007)(24,0.011)(24,0.002)(25,0.010)(25,0.006)(25,0.014)
(26,0.008)(26,0.012)(26,0.004)(27,0.011)(27,0.005)(27,0.015)(28,0.009)(28,0.013)(28,0.003)(29,0.007)(29,0.011)(29,0.005)(30,0.010)(30,0.006)(30,0.014)
(31,0.009)(31,0.013)(31,0.005)(32,0.011)(32,0.007)(32,0.015)(33,0.013)(33,0.008)(33,0.017)(34,0.012)(34,0.016)(34,0.022)(34,0.008)(35,0.014)(35,0.010)(35,0.018)
(36,0.012)(36,0.016)(36,0.008)(36,0.020)(37,0.013)(37,0.009)(37,0.017)(38,0.011)(38,0.015)(38,0.022)(38,0.007)(39,0.013)(39,0.009)(39,0.017)(40,0.014)(40,0.010)(40,0.018)
(41,0.012)(41,0.016)(41,0.008)(41,0.020)(42,0.013)(42,0.009)(42,0.017)(43,0.011)(43,0.015)(43,0.007)(44,0.014)(44,0.010)(44,0.018)(45,0.012)(45,0.016)(45,0.008)
(46,0.013)(46,0.009)(46,0.021)(46,0.017)(47,0.011)(47,0.015)(47,0.007)(47,0.023)(48,0.014)(48,0.010)(48,0.018)(49,0.012)(49,0.016)(49,0.008)(50,0.013)(50,0.009)(50,0.019)
(51,0.011)(51,0.015)(51,0.006)(52,0.014)(52,0.010)(52,0.018)(53,0.012)(53,0.016)(53,0.008)(54,0.013)(54,0.009)(54,0.017)(55,0.011)(55,0.015)(55,0.021)(55,0.007)
(56,0.013)(56,0.009)(56,0.017)(57,0.012)(57,0.016)(57,0.008)(57,0.022)(58,0.013)(58,0.009)(58,0.017)(59,0.011)(59,0.015)(59,0.007)(60,0.012)(60,0.016)(60,0.006)
(61,0.013)(61,0.009)(61,0.017)(62,0.011)(62,0.015)(62,0.023)(62,0.007)(63,0.012)(63,0.016)(63,0.008)(63,0.023)(64,0.013)(64,0.009)(64,0.017)(65,0.011)(65,0.015)(65,0.007)
(66,0.012)(66,0.016)(66,0.008)(67,0.010)(67,0.014)(67,0.006)(68,0.011)(68,0.015)(68,0.007)(69,0.010)(69,0.014)(69,0.005)(69,0.018)(70,0.011)(70,0.015)(70,0.007)(70,0.020)
(71,0.010)(71,0.014)(71,0.004)(71,0.018)(72,0.011)(72,0.015)(72,0.007)(73,0.010)(73,0.014)(73,0.005)(74,0.011)(74,0.015)(74,0.006)(75,0.010)(75,0.014)(75,0.005)(75,0.017)
(76,0.009)(76,0.013)(76,0.004)(77,0.010)(77,0.014)(77,0.005)(78,0.009)(78,0.013)(78,0.003)(79,0.008)(79,0.012)(79,0.002)(79,0.016)(79,0.021)(80,0.007)(80,0.011)(80,0.003)(80,0.018)
(11.5,0.007)(12.5,0.010)(13.5,0.006)(14.5,0.010)(15.5,0.008)(16.5,0.011)(17.5,0.007)(18.5,0.010)(19.5,0.006)(20.5,0.009)(21.5,0.010)(22.5,0.007)(23.5,0.011)(24.5,0.008)(25.5,0.011)(26.5,0.007)(27.5,0.009)(28.5,0.011)(29.5,0.008)(30.5,0.011)(31.5,0.010)(32.5,0.012)
(33.5,0.011)(34.5,0.014)(35.5,0.012)(36.5,0.014)(37.5,0.011)(38.5,0.013)(39.5,0.015)(40.5,0.012)(41.5,0.014)(42.5,0.011)(43.5,0.013)(44.5,0.016)(45.5,0.012)(46.5,0.015)(47.5,0.013)(48.5,0.012)(49.5,0.014)(50.5,0.011)(51.5,0.013)(52.5,0.015)(53.5,0.011)(54.5,0.014)(55.5,0.012)(56.5,0.014)
(57.5,0.011)(58.5,0.013)(59.5,0.015)(60.5,0.011)(61.5,0.014)(62.5,0.012)(63.5,0.014)(64.5,0.011)(65.5,0.013)(66.5,0.012)(67.5,0.010)(68.5,0.013)(69.5,0.012)(70.5,0.009)(71.5,0.012)(72.5,0.013)(73.5,0.009)(74.5,0.012)(75.5,0.011)(76.5,0.008)(77.5,0.012)(78.5,0.010)(79.5,0.007)
(80.5,0.001)(81,0.001)(81.2,-0.002)(81.5,-0.005)(81.3,-0.008)(81.7,-0.010)(82,-0.006)(82,-0.013)(82.3,-0.016)(82.6,-0.019)
(83,-0.028)(83,-0.032)(83,-0.035)(83.2,-0.038)(83.4,-0.042)(83.5,-0.031)(83.7,-0.040)(83.8,-0.046)(84,-0.034)(84,-0.044)(84,-0.048)(84.2,-0.038)(83.5,-0.052)(84.3,-0.055)(82.5,-0.056)(83,-0.056)(84,-0.063)(83,-0.050)(84.5,-0.044)
(83.2,-0.030)(83.6,-0.036)(83.9,-0.041)(84.1,-0.051)(83.4,-0.047)
(85,-0.052)(85.5,-0.055)(85.5,-0.061)(85,-0.058)(84.5,-0.079)(86,-0.056)(86.5,-0.062)(86,-0.069)(86.5,-0.074)(87,-0.050)(87,-0.066)(87,-0.070)(87.5,-0.060)(86.5,-0.083)(87,-0.081)(88,-0.064)(88,-0.095)(88.5,-0.074)
(89,-0.069)(89,-0.078)(89.5,-0.082)(89.5,-0.067)(90,-0.060)(90,-0.072)(90,-0.083)(90.5,-0.058)(90.5,-0.066)(91,-0.056)(91,-0.078)
(91,-0.085)(91,-0.090)(91.5,-0.052)(91.5,-0.068)(91.5,-0.082)(91.5,-0.100)(91.5,-0.105)(92,-0.062)(92,-0.075)(92,-0.088)(92,-0.092)(92,-0.101)(92.5,-0.079)(92.5,-0.095)(92.5,-0.108)
(93,-0.064)(93,-0.071)(93,-0.082)(93,-0.090)(93,-0.117)(93.5,-0.067)(93.5,-0.076)(93.5,-0.086)(93.5,-0.100)(93.5,-0.117)(94,-0.080)(94,-0.096)(94,-0.110)
(94.5,-0.078)(94.5,-0.088)(94.5,-0.104)(94.5,-0.113)(94.5,-0.117)(95,-0.086)(95,-0.093)(95,-0.107)(95.5,-0.088)(95.5,-0.097)(96,-0.082)(96,-0.093)(96,-0.102)(96.5,-0.087)(96.5,-0.073)
(92.8,-0.085)(93.2,-0.095)(94.2,-0.090)(94.8,-0.098)(93.8,-0.106)(92.3,-0.070)(95.2,-0.113)(94.3,-0.117)
(97,-0.067)(97,-0.070)(97,-0.087)(97.5,-0.084)(97,-0.095)(97.5,-0.103)(98,-0.123)(98,-0.101)(99.5,-0.081)(99.5,-0.086)(99.5,-0.092)(99.5,-0.099)(99.5,-0.102)(96,-0.076)(95.5,-0.069)
};
\addplot[zline] coordinates {(-4.92,0)(104.6,0)};
\end{axis}
% ---------------- (f) Human Rights
\begin{axis}[shap, at={(612.8pt,51.2pt)}, width=223.6pt, height=189.8pt,
  xmin=-4.82, xmax=104.3, ymin=-0.0546, ymax=0.0827,
  xtick={0,20,40,60,80,100}, xticklabels={0,20,40,60,80,100},
  ytick={-0.04,-0.02,0,0.02,0.04,0.06,0.08}, yticklabels={−0.04,−0.02,0.00,0.02,0.04,0.06,0.08},
  title={Univariate SHAP Dependence: Human Rights}, xlabel={Human Rights}, ylabel={SHAP value for\\Human Rights}]
\addplot[pts] coordinates {
(0,0.077)(0,0.069)(0,0.067)(0,0.061)(0,0.060)(0,0.058)(0,0.055)(0,0.054)(0,0.052)(0,0.050)(0,0.048)(0,0.046)(0,0.045)(0,0.044)(0,0.043)(0,0.042)(0,0.041)(0,0.040)(0,0.039)(0,0.038)(0,0.035)
(0.5,0.047)(1,0.040)(2.8,0.059)(2,0.041)(2.5,0.043)(3,0.045)(3.5,0.037)(4,0.030)(4.5,0.044)(5,0.046)(5,0.040)(5.5,0.036)(4.3,0.029)(4.5,0.031)(3,0.037)(4,0.033)
(5,0.030)(5,0.034)(5,0.026)(6,0.031)(6,0.028)(6,0.035)(7,0.030)(7,0.033)(7,0.027)(8,0.032)(8,0.029)(8,0.035)(9,0.031)(9,0.028)(9,0.034)(10,0.030)(10,0.033)(10,0.027)
(11,0.032)(11,0.029)(11,0.035)(12,0.030)(12,0.033)(12,0.027)(13,0.031)(13,0.034)(13,0.028)(14,0.029)(14,0.032)(14,0.025)(15,0.031)(15,0.028)(15,0.034)(16,0.029)(16,0.026)(16,0.032)
(17,0.028)(17,0.031)(17,0.025)(18,0.030)(18,0.027)(18,0.033)(19,0.028)(19,0.031)(19,0.025)(20,0.029)(20,0.026)(20,0.032)(21,0.028)(21,0.031)(21,0.025)(22,0.030)(22,0.027)(22,0.033)
(23,0.029)(23,0.026)(23,0.032)(24,0.030)(24,0.027)(24,0.033)(25,0.028)(25,0.031)(25,0.025)(25,0.035)(26,0.029)(26,0.026)(26,0.032)(27,0.027)(27,0.030)(27,0.024)(28,0.029)(28,0.026)(28,0.032)(28,0.041)
(29,0.028)(29,0.031)(29,0.025)(30,0.029)(30,0.026)(30,0.032)(31,0.027)(31,0.030)(31,0.023)(32,0.029)(32,0.025)(32,0.033)(33,0.027)(33,0.031)(33,0.023)
(5.5,0.031)(6.5,0.029)(7.5,0.032)(8.5,0.030)(9.5,0.031)(10.5,0.029)(11.5,0.031)(12.5,0.029)(13.5,0.030)(14.5,0.031)(15.5,0.029)(16.5,0.030)(17.5,0.027)(18.5,0.029)(19.5,0.030)(20.5,0.027)(21.5,0.029)(22.5,0.031)(23.5,0.028)(24.5,0.030)(25.5,0.027)(26.5,0.030)(27.5,0.028)(28.5,0.030)(29.5,0.027)(30.5,0.028)(31.5,0.031)(32.5,0.027)
(9.3,0.025)(10,0.048)(11.5,0.043)(12,0.047)(12.5,0.047)(13,0.039)(17.3,0.053)(16,0.040)(22,0.040)(24.5,0.044)(21,0.021)(27.5,0.041)(14,0.025)(19,0.024)(31,0.037)
(34,0.026)(34,0.022)(34,0.030)(34.5,0.024)(34.5,0.018)(35,0.020)(35,0.016)(35,0.023)(35.5,0.015)(35.5,0.012)(35.5,0.009)(36,0.012)(36,0.008)(36,0.004)(36,0.018)(36.5,0.009)(36.5,0.005)
(37,0.007)(37,0.004)(37,0.000)(37.5,0.004)(37.5,0.001)(37.5,-0.003)(38,0.003)(38,0.000)(38,-0.004)(38.5,0.001)(38.5,-0.002)(38.5,-0.005)(39,0.002)(39,-0.003)(39,-0.006)(39.5,0.000)(39.5,-0.004)(39.5,-0.007)
(40,-0.006)(40,-0.010)(40,-0.003)(41,-0.008)(41,-0.012)(41,-0.004)(42,-0.007)(42,-0.011)(42,-0.015)(43,-0.009)(43,-0.005)(43,-0.012)(44,-0.008)(44,-0.012)(44,-0.004)(45,-0.007)(45,-0.011)(45,-0.014)
(46,-0.009)(46,-0.005)(46,-0.013)(47,-0.008)(47,-0.012)(47,-0.004)(48,-0.010)(48,-0.006)(48,-0.014)(49,-0.009)(49,-0.013)(49,-0.005)(50,-0.010)(50,-0.006)(50,-0.014)
(51,-0.011)(51,-0.007)(51,-0.015)(52,-0.010)(52,-0.014)(52,-0.006)(53,-0.012)(53,-0.008)(53,-0.016)(54,-0.011)(54,-0.015)(54,-0.007)(55,-0.012)(55,-0.008)(55,-0.017)
(56,-0.013)(56,-0.009)(56,-0.016)(57,-0.012)(57,-0.016)(57,-0.020)(58,-0.013)(58,-0.009)(58,-0.017)(59,-0.012)(59,-0.016)(59,-0.008)(60,-0.013)(60,-0.009)(60,-0.017)
(61,-0.012)(61,-0.016)(61,-0.008)(62,-0.013)(62,-0.009)(62,-0.007)(63,-0.014)(63,-0.010)(63,-0.018)(64,-0.013)(64,-0.017)(64,-0.009)(65,-0.014)(65,-0.010)(65,-0.004)
(66,-0.015)(66,-0.011)(66,-0.019)(67,-0.014)(67,-0.018)(67,-0.010)(68,-0.015)(68,-0.011)(68,-0.019)(69,-0.016)(69,-0.012)(69,-0.020)(69,-0.024)(70,-0.015)(70,-0.019)(70,-0.011)(70,-0.007)
(71,-0.016)(71,-0.012)(71,-0.020)(72,-0.015)(72,-0.019)(72,-0.011)(73,-0.016)(73,-0.012)(73,-0.020)(74,-0.017)(74,-0.013)(74,-0.021)(75,-0.016)(75,-0.020)(75,-0.012)(75,-0.007)
(76,-0.017)(76,-0.013)(76,-0.009)(77,-0.018)(77,-0.014)(77,-0.022)(78,-0.017)(78,-0.021)(78,-0.013)(79,-0.018)(79,-0.014)(79,-0.022)(80,-0.019)(80,-0.015)(80,-0.023)(80,-0.027)
(81,-0.018)(81,-0.022)(81,-0.014)(82,-0.019)(82,-0.015)(82,-0.029)(83,-0.020)(83,-0.016)(83,-0.024)(84,-0.019)(84,-0.023)(84,-0.015)(85,-0.020)(85,-0.016)(85,-0.026)
(86,-0.021)(86,-0.017)(86,-0.025)(87,-0.020)(87,-0.024)(87,-0.016)(88,-0.021)(88,-0.017)(88,-0.027)(89,-0.022)(89,-0.018)(89,-0.026)(90,-0.021)(90,-0.025)(90,-0.017)(90,-0.012)
(40.5,-0.008)(41.5,-0.009)(42.5,-0.009)(43.5,-0.008)(44.5,-0.010)(45.5,-0.009)(46.5,-0.011)(47.5,-0.010)(48.5,-0.008)(49.5,-0.011)(50.5,-0.012)(51.5,-0.009)(52.5,-0.012)(53.5,-0.010)(54.5,-0.013)(55.5,-0.011)(56.5,-0.014)
(57.5,-0.011)(58.5,-0.014)(59.5,-0.011)(60.5,-0.015)(61.5,-0.012)(62.5,-0.015)(63.5,-0.012)(64.5,-0.015)(65.5,-0.013)(66.5,-0.016)(67.5,-0.013)(68.5,-0.017)(69.5,-0.014)(70.5,-0.017)(71.5,-0.014)(72.5,-0.018)(73.5,-0.015)
(74.5,-0.019)(75.5,-0.015)(76.5,-0.019)(77.5,-0.016)(78.5,-0.020)(79.5,-0.016)(80.5,-0.021)(81.5,-0.017)(82.5,-0.022)(83.5,-0.018)(84.5,-0.022)(85.5,-0.018)(86.5,-0.023)(87.5,-0.019)(88.5,-0.023)(89.5,-0.020)
(90.5,-0.015)(90.5,-0.023)(90.5,-0.030)(91,-0.010)(91,-0.018)(91,-0.026)(91,-0.033)(91,-0.037)(91.5,-0.013)(91.5,-0.020)(91.5,-0.028)(91.5,-0.035)(91.5,-0.038)(92,-0.008)(92,-0.016)(92,-0.022)(92,-0.030)
(92.5,-0.012)(92.5,-0.019)(92.5,-0.026)(93,-0.004)(93,-0.015)(93,-0.021)(93,-0.029)(93.5,-0.010)(93.5,-0.017)(93.5,-0.024)(94,-0.013)(94,-0.020)(94,-0.027)(94.5,-0.010)(94.5,-0.016)(94.5,-0.023)
(95,-0.012)(95,-0.019)(95,-0.025)(95.5,-0.010)(95.5,-0.017)(95.5,-0.024)(96,-0.005)(96,-0.014)(96,-0.021)(96.5,-0.003)(96.5,-0.025)(96.5,-0.032)(96.5,-0.037)(96.5,-0.048)(97.5,-0.018)(99.5,-0.020)(99.5,-0.034)
(85,-0.035)(84,-0.033)(88,-0.036)(82,-0.030)(83,-0.030)(86,-0.028)(89,-0.031)(41.5,-0.015)
};
\addplot[zline] coordinates {(-4.82,0)(104.3,0)};
\end{axis}
% ---------------- captions
\node[font=\capfont\fontsize{17}{18}\selectfont] at (138.8pt,265.2pt) {(\textbf{a})};
\node[font=\capfont\fontsize{17}{18}\selectfont] at (419.0pt,265.2pt) {(\textbf{b})};
\node[font=\capfont\fontsize{17}{18}\selectfont] at (700.2pt,265.2pt) {(\textbf{c})};
\node[font=\capfont\fontsize{17}{18}\selectfont] at (138.8pt,10.8pt) {(\textbf{d})};
\node[font=\capfont\fontsize{17}{18}\selectfont] at (419.0pt,10.8pt) {(\textbf{e})};
\node[font=\capfont\fontsize{17}{18}\selectfont] at (700.2pt,10.8pt) {(\textbf{f})};
\end{tikzpicture}
\end{document}
